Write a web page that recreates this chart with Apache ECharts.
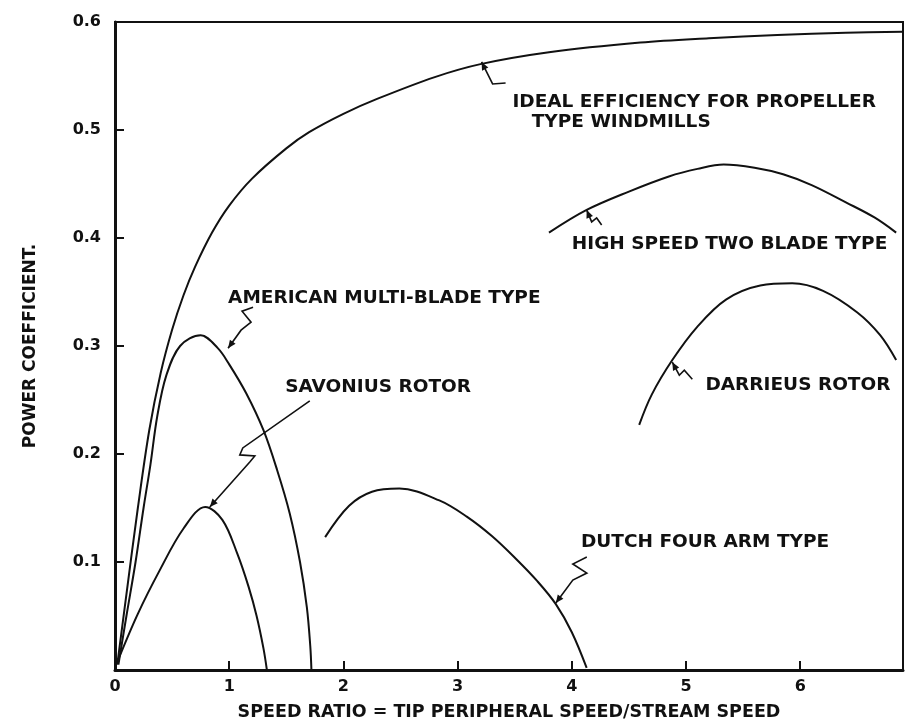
<!DOCTYPE html>
<html>
<head>
<meta charset="utf-8">
<script src="https://cdn.jsdelivr.net/npm/echarts@6/dist/echarts.min.js"></script>
<style>
  html, body { margin: 0; padding: 0; background: #fff; }
  #chart { width: 910px; height: 724px; }
</style>
</head>
<body>
<div id="chart"></div>
<script>
// [speed ratio, power coefficient]
const idealEfficiency = [
  [0.02, 0.005], [0.1, 0.07], [0.2, 0.15], [0.3, 0.222], [0.4, 0.275], [0.5, 0.315],
  [0.6, 0.347], [0.7, 0.373], [0.85, 0.405], [1.0, 0.43], [1.2, 0.455], [1.5, 0.483],
  [1.7, 0.498], [2.0, 0.515], [2.3, 0.529], [2.8, 0.549], [3.2, 0.561], [3.8, 0.572],
  [4.6, 0.581], [5.2, 0.585], [5.8, 0.588], [6.4, 0.59], [6.9, 0.591]
]
const americanMultiBlade = [
  [0.03, 0.005], [0.1, 0.05], [0.18, 0.1], [0.25, 0.15], [0.31, 0.19], [0.37, 0.235],
  [0.45, 0.273], [0.57, 0.3], [0.75, 0.31], [0.9, 0.298], [1.0, 0.283], [1.15, 0.256],
  [1.3, 0.222], [1.42, 0.185], [1.53, 0.145], [1.62, 0.1], [1.68, 0.058], [1.71, 0.022], [1.72, 0]
]
const savoniusRotor = [
  [0.03, 0.01], [0.2, 0.052], [0.39, 0.092], [0.6, 0.131], [0.79, 0.151], [0.94, 0.139],
  [1.07, 0.108], [1.17, 0.077], [1.24, 0.05], [1.3, 0.02], [1.33, 0]
]
const dutchFourArm = [
  [1.84, 0.123], [2.05, 0.152], [2.25, 0.165], [2.49, 0.168], [2.84, 0.157], [3.08, 0.142],
  [3.3, 0.124], [3.51, 0.103], [3.7, 0.082], [3.86, 0.061], [4.0, 0.035], [4.13, 0.002]
]
const highSpeedTwoBlade = [
  [3.8, 0.405], [4.13, 0.426], [4.5, 0.443], [4.85, 0.457], [5.1, 0.464], [5.33, 0.468],
  [5.6, 0.465], [5.85, 0.459], [6.1, 0.449], [6.4, 0.433], [6.65, 0.419], [6.84, 0.405]
]
const darrieusRotor = [
  [4.59, 0.227], [4.7, 0.255], [4.88, 0.287], [5.1, 0.318], [5.35, 0.343], [5.65, 0.356],
  [5.93, 0.358], [6.2, 0.351], [6.5, 0.331], [6.7, 0.31], [6.84, 0.287]
]

const xTicks = [0, 1, 2, 3, 4, 5, 6]
const yTicks = [0.1, 0.2, 0.3, 0.4, 0.5, 0.6]

// curve labels: text lines, where the text starts (data coords), leader tip (data coords)
const annotations = [
  { lines: ['IDEAL EFFICIENCY FOR PROPELLER', '   TYPE WINDMILLS'], at: [3.48, 0.526], tip: [3.21, 0.563],
    path: [[24, 21], [11, 22], [0, 0]] },
  { lines: ['HIGH SPEED TWO BLADE TYPE'], at: [4.0, 0.394], tip: [4.13, 0.426],
    path: [[15, 15], [10, 8], [5, 12], [0, 0]] },
  { lines: ['DARRIEUS ROTOR'], at: [5.17, 0.264], tip: [4.88, 0.285],
    path: [[20, 17], [12, 8], [7, 13], [0, 0]] },
  { lines: ['AMERICAN MULTI-BLADE TYPE'], at: [0.99, 0.344], tip: [0.99, 0.298],
    path: [[25, -41], [14, -37], [23, -26], [13, -18], [0, 0]] },
  { lines: ['SAVONIUS ROTOR'], at: [1.49, 0.262], tip: [0.83, 0.151],
    path: [[100, -106], [33, -59], [30, -52], [45, -51], [40, -45], [0, 0]] },
  { lines: ['DUTCH FOUR ARM TYPE'], at: [4.08, 0.118], tip: [3.86, 0.062],
    path: [[31, -46], [17, -39], [31, -30], [17, -23], [0, 0]] }
]

const ink = '#111'
const font = 'DejaVu Sans'

const chart = echarts.init(document.getElementById('chart'))

const curve = (name, data) => ({
  name,
  type: 'line',
  data,
  smooth: 0.35,
  showSymbol: false,
  silent: true,
  lineStyle: { color: ink, width: 2 }
})

chart.setOption({
  animation: false,
  backgroundColor: '#fff',
  grid: {
    left: 115, right: 7, top: 22, bottom: 54,
    outerBoundsMode: 'none',
    show: true, borderColor: ink, borderWidth: 2
  },
  xAxis: {
    type: 'value',
    min: 0,
    max: 6.9,
    interval: 1,
    name: 'SPEED RATIO = TIP PERIPHERAL SPEED/STREAM SPEED',
    nameLocation: 'middle',
    nameGap: 33,
    nameTextStyle: { color: ink, fontFamily: font, fontWeight: 'bold', fontSize: 17.5 },
    axisLine: { lineStyle: { color: ink, width: 3 } },
    axisTick: { inside: true, length: 9, lineStyle: { color: ink, width: 2 } },
    splitLine: { show: false },
    axisLabel: {
      color: ink, fontFamily: font, fontWeight: 'bold', fontSize: 16, margin: 9,
      formatter: v => (xTicks.includes(v) ? String(v) : '')
    }
  },
  yAxis: {
    type: 'value',
    min: 0,
    max: 0.6,
    interval: 0.1,
    name: 'POWER COEFFICIENT.',
    nameLocation: 'middle',
    nameGap: 76,
    nameRotate: 90,
    nameTextStyle: { color: ink, fontFamily: font, fontWeight: 'bold', fontSize: 17 },
    axisLine: { lineStyle: { color: ink, width: 3 } },
    axisTick: { inside: true, length: 9, lineStyle: { color: ink, width: 2 } },
    splitLine: { show: false },
    axisLabel: {
      color: ink, fontFamily: font, fontWeight: 'bold', fontSize: 16, margin: 14,
      formatter: v => {
        const t = yTicks.find(k => Math.abs(k - v) < 1e-6)
        return t === undefined ? '' : t.toFixed(1)
      }
    }
  },
  series: [
    curve('Ideal efficiency', idealEfficiency),
    curve('American multi-blade', americanMultiBlade),
    curve('Savonius rotor', savoniusRotor),
    curve('Dutch four arm', dutchFourArm),
    curve('High speed two blade', highSpeedTwoBlade),
    curve('Darrieus rotor', darrieusRotor)
  ]
})

// labels and squiggly leaders
const graphics = []
annotations.forEach(a => {
  const p = chart.convertToPixel({ gridIndex: 0 }, a.at)
  a.lines.forEach((line, i) => {
    graphics.push({
      type: 'text',
      silent: true,
      style: {
        text: line, x: p[0], y: p[1] + i * 20,
        fill: ink, fontFamily: font, fontWeight: 'bold', fontSize: 18.5,
        verticalAlign: 'middle', align: 'left'
      }
    })
  })
  const tip = chart.convertToPixel({ gridIndex: 0 }, a.tip)
  const pts = a.path.map(d => [tip[0] + d[0], tip[1] + d[1]])
  graphics.push({ type: 'polyline', silent: true, shape: { points: pts }, style: { stroke: ink, lineWidth: 1.6, fill: null } })
  // arrow head
  const prev = pts[pts.length - 2]
  const dx = tip[0] - prev[0], dy = tip[1] - prev[1]
  const len = Math.hypot(dx, dy) || 1
  const ux = dx / len, uy = dy / len
  const bx = tip[0] - ux * 8, by = tip[1] - uy * 8
  graphics.push({
    type: 'polygon', silent: true,
    shape: { points: [[tip[0], tip[1]], [bx - uy * 3.5, by + ux * 3.5], [bx + uy * 3.5, by - ux * 3.5]] },
    style: { fill: ink }
  })
})
chart.setOption({ graphic: graphics })
</script>
</body>
</html>
